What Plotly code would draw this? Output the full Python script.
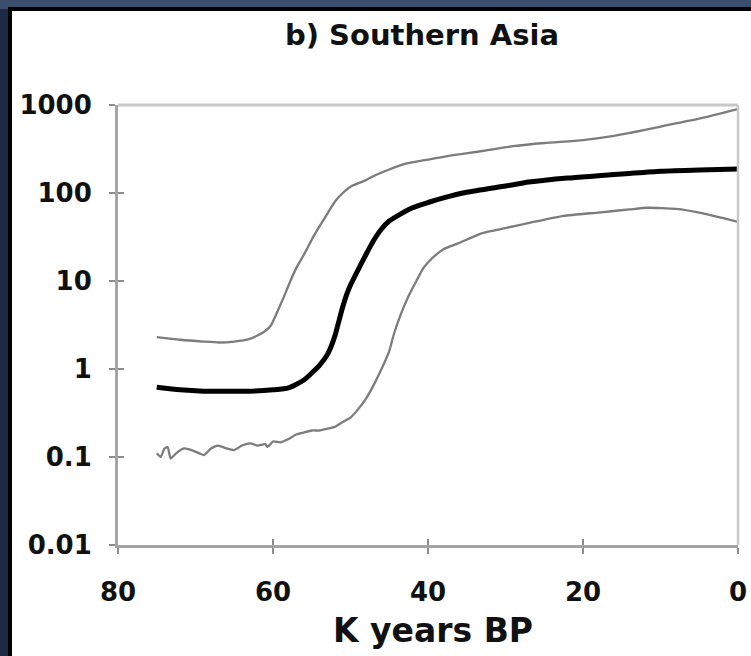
import plotly.graph_objects as go

# ---- data (K years BP, population estimates) ----
x_mid = [75, 72, 69, 66, 63, 60, 58, 56, 55, 54, 53, 52.5, 52, 51.5, 51, 50.5, 50, 49.3,
         48, 47, 46, 45, 43.5, 42, 40, 38, 35, 30, 27, 22, 18, 14, 10, 5, 0]
y_mid = [0.62, 0.58, 0.56, 0.56, 0.56, 0.58, 0.61, 0.75, 0.9, 1.1, 1.45, 1.8, 2.4, 3.5,
         5.1, 7.0, 9.0, 12, 20, 29, 39, 48, 58, 68, 78, 88, 102, 120, 133, 148, 157,
         167, 177, 183, 187]

x_up = [75, 72, 69, 67, 65, 63, 62, 61, 60.3, 59.8, 59.2, 58.6, 57.8, 57, 56, 54.7, 53,
        52, 51, 50, 48, 47, 45, 43, 40, 37.5, 33, 29, 25, 20, 16, 12, 9.7, 5, 0]
y_up = [2.3, 2.15, 2.05, 2.0, 2.05, 2.2, 2.4, 2.7, 3.1, 3.8, 5.0, 6.6, 9.8, 14, 20, 33,
        58, 80, 100, 118, 140, 156, 185, 214, 240, 263, 300, 340, 370, 400, 446, 520,
        577, 700, 900]

x_lo = [75, 74.5, 74, 73.6, 73.2, 72.5, 71.5, 70.5, 69.5, 68.9, 68, 67.1, 66, 65, 64,
        62.9, 62, 61, 60.7, 60, 59, 58, 57, 56, 55, 54, 53, 52, 51, 50, 49, 48, 47, 46,
        45, 44.4, 43.5, 42.6, 41.5, 40.6, 39.5, 38, 36, 33, 30, 26.8, 22.5, 18, 14,
        11.7, 8, 5, 2, 0]
y_lo = [0.11, 0.10, 0.125, 0.13, 0.096, 0.11, 0.125, 0.12, 0.11, 0.105, 0.125, 0.135,
        0.125, 0.12, 0.135, 0.143, 0.135, 0.14, 0.13, 0.15, 0.147, 0.16, 0.18, 0.19,
        0.2, 0.2, 0.21, 0.22, 0.25, 0.28, 0.35, 0.46, 0.66, 1.0, 1.6, 2.5, 4.2, 6.5,
        10, 14, 18, 23, 27, 35, 40, 46, 55, 60, 65, 68, 66, 60, 52, 47]

x_ticks = [80, 60, 40, 20, 0]
y_ticks = [0.01, 0.1, 1, 10, 100, 1000]
y_ticktext = ["0.01", "0.1", "1", "10", "100", "1000"]

title_text = "b) Southern Asia"
x_title = "K years BP"

FONT = "DejaVu Sans"
GRAY = "#7c7c7c"

fig = go.Figure()
fig.add_trace(go.Scatter(x=x_up, y=y_up, mode="lines",
                         line=dict(color=GRAY, width=2.3, shape="spline", smoothing=0.6),
                         hoverinfo="skip", showlegend=False))
fig.add_trace(go.Scatter(x=x_lo, y=y_lo, mode="lines",
                         line=dict(color=GRAY, width=2.3, shape="spline", smoothing=0.5),
                         hoverinfo="skip", showlegend=False))
fig.add_trace(go.Scatter(x=x_mid, y=y_mid, mode="lines",
                         line=dict(color="#000000", width=5, shape="spline", smoothing=0.6),
                         hoverinfo="skip", showlegend=False))
# invisible trace to register overlay axes (for crossing ticks)
fig.add_trace(go.Scatter(x=x_mid, y=y_mid, mode="lines", xaxis="x2", yaxis="y2",
                         line=dict(color="rgba(0,0,0,0)", width=0),
                         hoverinfo="skip", showlegend=False))

tickfont = dict(family=FONT, size=26, color="#111111", weight="bold")

fig.update_layout(
    template="none",
    width=751, height=656,
    margin=dict(l=118, r=13, t=105, b=111, pad=0),
    paper_bgcolor="#1d2a44",
    plot_bgcolor="#ffffff",
    hovermode=False,
    xaxis=dict(range=[80, 0], tickvals=x_ticks, showgrid=False, zeroline=False,
               automargin=False,
               showline=True, linecolor="#a4a4a4", linewidth=3,
               ticks="outside", ticklen=6, tickwidth=2, tickcolor="#8c8c8c",
               tickfont=tickfont, ticklabelstandoff=16),
    yaxis=dict(type="log", range=[-2, 3], tickvals=y_ticks, ticktext=y_ticktext,
               showgrid=False, zeroline=False, automargin=False,
               showline=True, linecolor="#a4a4a4", linewidth=3,
               ticks="outside", ticklen=6, tickwidth=2, tickcolor="#8c8c8c",
               tickfont=tickfont, ticklabelstandoff=12),
    xaxis2=dict(range=[80, 0], tickvals=x_ticks, overlaying="x", side="bottom",
                anchor="y2", showgrid=False, zeroline=False, showline=False,
                automargin=False,
                ticks="inside", ticklen=6, tickwidth=2, tickcolor="#8c8c8c",
                showticklabels=False),
    yaxis2=dict(type="log", range=[-2, 3], tickvals=y_ticks, overlaying="y", side="left",
                anchor="x2", showgrid=False, zeroline=False, showline=False,
                automargin=False,
                ticks="inside", ticklen=6, tickwidth=2, tickcolor="#8c8c8c",
                showticklabels=False),
    shapes=[
        # top navy band
        dict(type="rect", xref="paper", yref="paper", x0=-0.3, x1=1.1,
             y0=(545 - 9) / 440, y1=1.3, fillcolor="#3b4e6e", line=dict(width=0),
             layer="below"),
        # white panel with black frame
        dict(type="rect", xref="paper", yref="paper",
             x0=(10 - 118) / 620, x1=1.1, y0=-0.4, y1=(545 - 9) / 440,
             fillcolor="#ffffff", line=dict(color="#000000", width=4), layer="below"),
        # top and right border lines of plot area
        dict(type="line", xref="paper", yref="paper", x0=0, x1=1, y0=1, y1=1,
             line=dict(color="#c8c8c8", width=3)),
        dict(type="line", xref="paper", yref="paper", x0=1, x1=1, y0=0, y1=1,
             line=dict(color="#c8c8c8", width=2.5)),
    ],
    annotations=[
        dict(text=title_text, xref="paper", yref="paper",
             x=(422 - 118) / 620, y=(545 - 35) / 440, xanchor="center", yanchor="middle",
             showarrow=False, font=dict(family=FONT, size=29, color="#111111", weight="bold")),
        dict(text=x_title, xref="paper", yref="paper",
             x=(433 - 118) / 620, y=(545 - 630) / 440, xanchor="center", yanchor="middle",
             showarrow=False, font=dict(family=FONT, size=33, color="#111111", weight="bold")),
    ],
)

fig.write_html("out.html",
               config={"displayModeBar": False, "staticPlot": True},
               post_script="document.body.style.margin='0px';"
                           "document.body.style.background='#1d2a44';")
